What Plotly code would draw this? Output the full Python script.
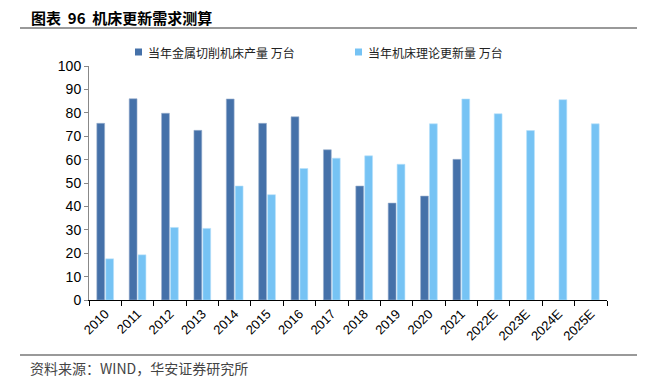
import plotly.graph_objects as go

years = ["2010", "2011", "2012", "2013", "2014", "2015", "2016", "2017",
         "2018", "2019", "2020", "2021", "2022E", "2023E", "2024E", "2025E"]
production = [75.5, 86.0, 79.8, 72.5, 85.9, 75.5, 78.3, 64.2,
              48.7, 41.4, 44.4, 60.1, None, None, None, None]
replacement = [17.6, 19.3, 31.0, 30.6, 48.7, 45.0, 56.2, 60.6,
               61.6, 58.0, 75.3, 85.9, 79.6, 72.4, 85.6, 75.3]

name_prod = "当年金属切削机床产量 万台"
name_repl = "当年机床理论更新量 万台"

dark = "#4571A9"
light = "#76C3F4"

fig = go.Figure()
fig.add_trace(go.Bar(x=years, y=production, name=name_prod, showlegend=False,
                     marker=dict(color=dark, line=dict(color="#9AB0CF", width=0.6))))
fig.add_trace(go.Bar(x=years, y=replacement, name=name_repl, showlegend=False,
                     marker=dict(color=light, line=dict(color="#B9E1FA", width=0.6))))

# page body has an 8px margin, so work in reference pixel coords and shift by 8
OFF = 8
W, H = 646 - OFF, 378 - OFF
L, R, T, B = 89 - OFF, 39, 66 - OFF, 78
pw = W - L - R
ph = H - T - B

def px(x):
    return (x - OFF - L) / pw

def py(y):
    return (H - B - (y - OFF)) / ph

font_cjk = "Noto Sans CJK SC"

shapes = [
    dict(type="line", xref="paper", yref="paper", x0=px(20), x1=px(637),
         y0=py(28), y1=py(28), line=dict(color="#999", width=2)),
    dict(type="line", xref="paper", yref="paper", x0=px(20), x1=px(637),
         y0=py(355), y1=py(355), line=dict(color="#999", width=2)),
    dict(type="rect", xref="paper", yref="paper", x0=px(135), x1=px(142),
         y0=py(48.5), y1=py(55.5), fillcolor=dark, line=dict(width=0)),
    dict(type="rect", xref="paper", yref="paper", x0=px(355), x1=px(362),
         y0=py(48.5), y1=py(55.5), fillcolor=light, line=dict(width=0)),
]

annotations = [
    dict(text="<b>图表  96  机床更新需求测算</b>", xref="paper", yref="paper",
         x=px(29), y=py(17), xanchor="left", yanchor="middle", showarrow=False,
         font=dict(family=font_cjk, size=15, color="#000")),
    dict(text="资料来源：WIND，华安证券研究所", xref="paper", yref="paper",
         x=px(28), y=py(368), xanchor="left", yanchor="middle", showarrow=False,
         font=dict(family=font_cjk, size=14, color="#444")),
    dict(text=name_prod, xref="paper", yref="paper",
         x=px(146), y=py(52), xanchor="left", yanchor="middle", showarrow=False,
         font=dict(family=font_cjk, size=12, color="#222")),
    dict(text=name_repl, xref="paper", yref="paper",
         x=px(366), y=py(52), xanchor="left", yanchor="middle", showarrow=False,
         font=dict(family=font_cjk, size=12, color="#222")),
]

fig.update_layout(
    width=W, height=H,
    margin=dict(l=L, r=R, t=T, b=B, autoexpand=False),
    paper_bgcolor="white", plot_bgcolor="white",
    barmode="group", bargap=0.45, bargroupgap=0.12,
    showlegend=False,
    font=dict(family="Liberation Sans, Arial", color="#000"),
    xaxis=dict(type="category", showline=True, linecolor="#000", linewidth=1.2,
               ticks="outside", ticklen=5, tickcolor="#000", tickson="boundaries",
               tickangle=-45, tickfont=dict(family="Liberation Sans, Arial", size=13, color="#000"),
               showgrid=False, zeroline=False, automargin=False),
    yaxis=dict(range=[0, 100], dtick=10, showline=True, linecolor="#888", linewidth=1,
               ticks="outside", ticklen=4, tickcolor="#888",
               tickfont=dict(family="Liberation Sans, Arial", size=14, color="#000"),
               showgrid=False, zeroline=False, automargin=False),
    shapes=shapes,
    annotations=annotations,
)

fig.write_html("out.html")
